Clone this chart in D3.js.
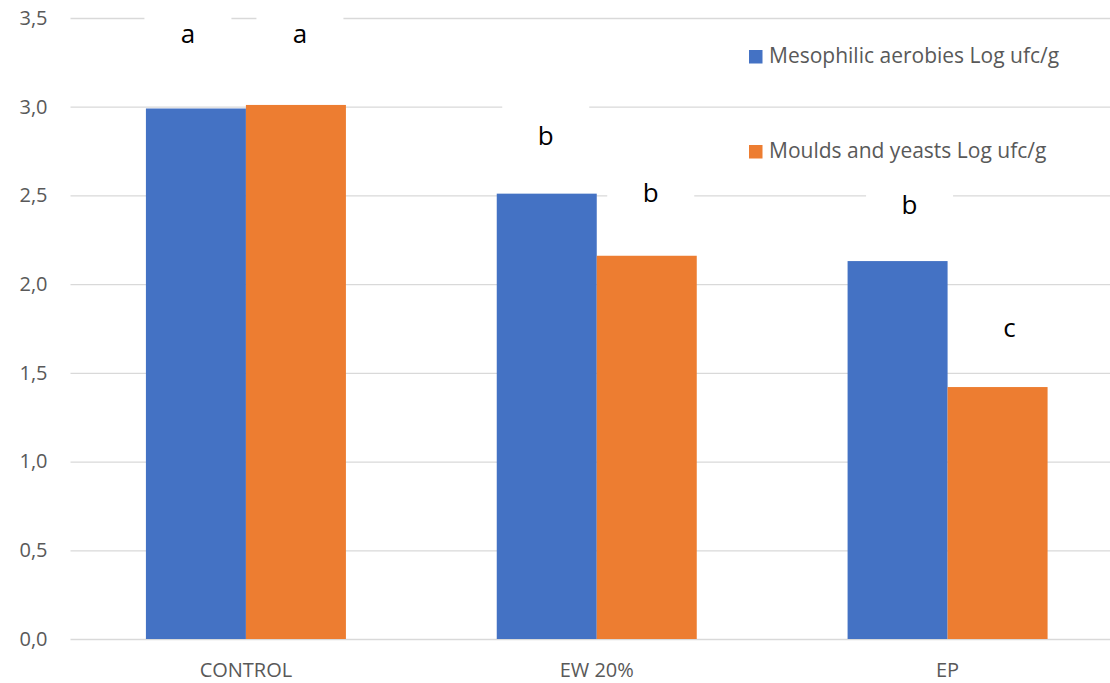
<!DOCTYPE html>
<html><head><meta charset="utf-8">
<script src="https://cdn.jsdelivr.net/npm/d3@7"></script>
<style>body{margin:0;background:#fff}svg{display:block}</style>
</head><body>
<svg id="c" width="1110" height="683"></svg>
<script>
const categories = ["CONTROL", "EW 20%", "EP"];
const seriesNames = ["Mesophilic aerobies Log ufc/g", "Moulds and yeasts Log ufc/g"];
const mesophilic = [2.99, 2.51, 2.13];
const moulds = [3.01, 2.16, 1.42];
const mesoLetters = ["a", "b", "b"];
const mouldLetters = ["a", "b", "c"];
const mesoLetterLevel = [3.41, 2.835, 2.445];
const mouldLetterLevel = [3.41, 2.515, 1.755];
const yTicks = [0, 0.5, 1, 1.5, 2, 2.5, 3, 3.5];
const colors = ["#4472C4", "#ED7D31"];

// manual label nudges (layout, px)
const mesoNudge = [-8, -1, 12];
const mouldNudge = [4, 4, 12];

const svg = d3.select("#c");
const W = 1110, H = 683;
const m = {left: 70.5, right: -13, top: 18, bottom: 44};
const font = "'Open Sans', 'Noto Sans', sans-serif";

const x = d3.scaleBand().domain(categories).range([m.left, W - m.right]).paddingInner(0).paddingOuter(0);
const inner = d3.scaleBand().domain([0, 1]).range([0, 200]);
const groupOffset = (x.bandwidth() - 200) / 2;
const y = d3.scaleLinear().domain([0, 3.5]).range([H - m.bottom, m.top]);

// gridlines
const yAxis = d3.axisLeft(y).tickValues(yTicks).tickSize(-(W - m.left)).tickFormat(d => d3.format(".1f")(d).replace(".", ","));
const gy = svg.append("g").attr("transform", `translate(${m.left},0)`).call(yAxis);
gy.select(".domain").remove();
gy.selectAll(".tick line").attr("stroke", "#d9d9d9").attr("stroke-width", 1.3);
gy.selectAll(".tick text").attr("x", -23).attr("fill", "#595959").style("font-family", font).style("font-size", "20px");

// bars
const series = [mesophilic, moulds];
series.forEach((vals, si) => {
  svg.append("g").selectAll("rect").data(categories).join("rect")
    .attr("x", c => x(c) + groupOffset + inner(si))
    .attr("width", inner.bandwidth())
    .attr("y", (c, i) => y(vals[i]))
    .attr("height", (c, i) => y(0) - y(vals[i]))
    .attr("fill", colors[si]);
});

// letter labels with white boxes
const letters = [mesoLetters, mouldLetters];
const levels = [mesoLetterLevel, mouldLetterLevel];
const nudges = [mesoNudge, mouldNudge];
letters.forEach((ls, si) => {
  const g = svg.append("g");
  categories.forEach((c, i) => {
    const cx = x(c) + groupOffset + inner(si) + inner.bandwidth() / 2 + nudges[si][i];
    const cy = y(levels[si][i]);
    g.append("rect").attr("x", cx - 43.5).attr("y", cy - 30).attr("width", 87).attr("height", 58).attr("fill", "#fff");
    g.append("text").attr("x", cx).attr("y", cy).attr("dy", "0.35em").attr("text-anchor", "middle")
      .attr("fill", "#000").style("font-family", font).style("font-size", "26px").text(ls[i]);
  });
});

// x axis labels
svg.append("g").selectAll("text").data(categories).join("text")
  .attr("x", c => x(c) + x.bandwidth() / 2).attr("y", 677)
  .attr("text-anchor", "middle").attr("fill", "#595959")
  .style("font-family", font).style("font-size", "20px").text(d => d);

// legend
const lg = svg.append("g");
const legY = [63, 158];
seriesNames.forEach((n, i) => {
  lg.append("rect").attr("x", 749).attr("y", legY[i] - 13).attr("width", 13.5).attr("height", 13.5).attr("fill", colors[i]);
  lg.append("text").attr("x", 769).attr("y", legY[i]).attr("fill", "#595959")
    .style("font-family", font).style("font-size", "21px").text(n);
});
</script>
</body></html>
